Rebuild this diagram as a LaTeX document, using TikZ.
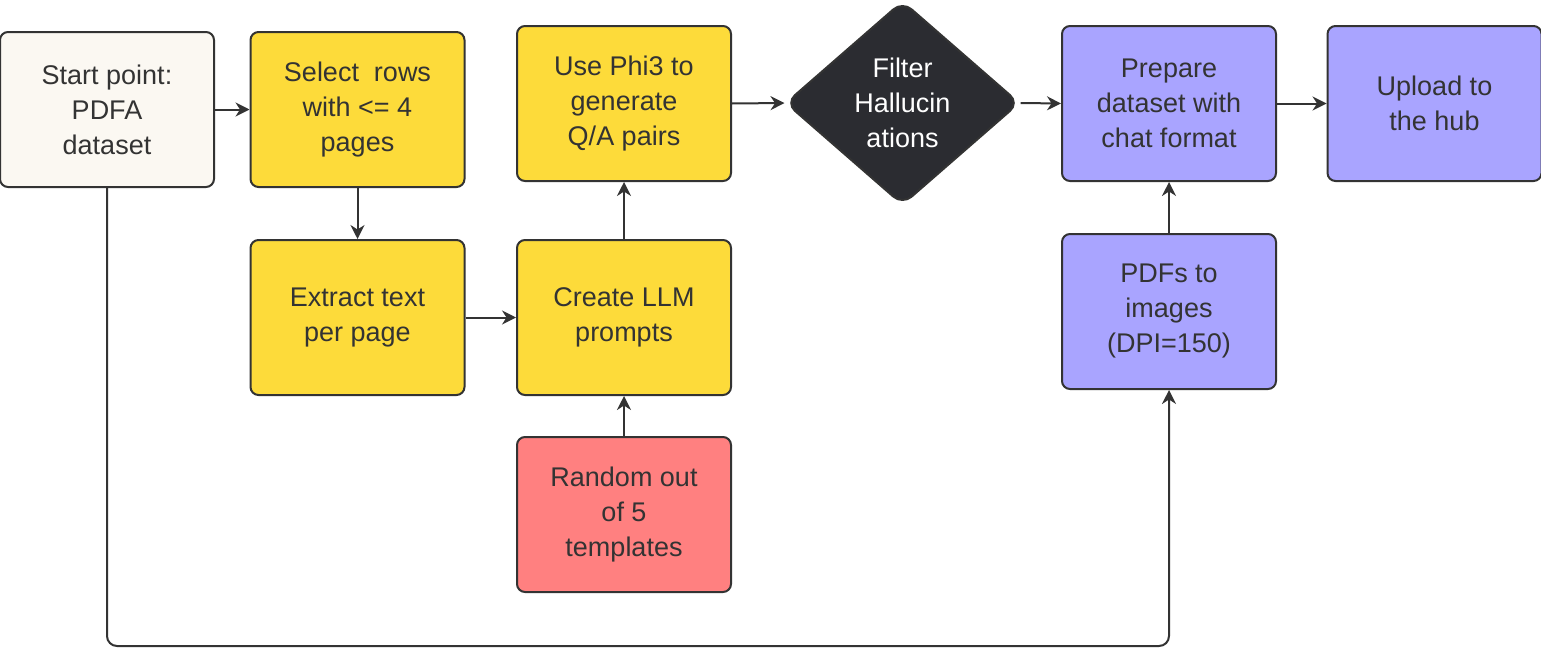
\documentclass[tikz,border=0pt]{standalone}
\usepackage{fontspec}
\setmainfont{Liberation Sans}
\usetikzlibrary{arrows.meta,shapes.geometric}
\definecolor{ln}{HTML}{333333}
\definecolor{cream}{HTML}{FBF8F2}
\definecolor{yel}{HTML}{FDDB3A}
\definecolor{redc}{HTML}{FF8080}
\definecolor{pur}{HTML}{A9A4FF}
\definecolor{dia}{HTML}{2B2C31}
\begin{document}
\begin{tikzpicture}[x=0.5pt,y=-0.5pt,
  box/.style={draw=ln,line width=1pt,rounded corners=4pt,minimum width=107pt,minimum height=77.5pt,align=center,inner sep=2pt,font=\fontsize{13.5}{17.5}\selectfont,text=ln},
  arr/.style={draw=ln,line width=1pt,-{Stealth[length=7pt,width=7pt]}}]
\useasboundingbox (0,0) rectangle (1541,648);
\node[box,fill=cream] (start) at (107,109.5) {Start point:\\PDFA\\dataset};
\node[box,fill=yel] (select) at (357.5,109.5) {Select\ \ rows\\with <= 4\\pages};
\node[box,fill=yel] (extract) at (357.5,317.5) {Extract text\\per page};
\node[box,fill=yel] (phi) at (624,103.5) {Use Phi3 to\\generate\\Q/A pairs};
\node[box,fill=yel] (create) at (624,317.5) {Create LLM\\prompts};
\node[box,fill=redc] (random) at (624,514.5) {Random out\\of 5\\templates};
\node[draw=ln,line width=1pt,fill=dia,diamond,rounded corners=6pt,minimum width=117pt,minimum height=102pt,inner sep=0pt,align=center,text=white,font=\fontsize{13.5}{17.5}\selectfont] (filter) at (902.5,103) {Filter\\Hallucin\\ations};
\node[box,fill=pur] (prep) at (1169,103.5) {Prepare\\dataset with\\chat format};
\node[box,fill=pur] (up) at (1434.5,103.5) {Upload to\\the hub};
\node[box,fill=pur] (pdfs) at (1169,311.5) {PDFs to\\images\\(DPI=150)};
\draw[arr] (start.east) -- (select.west);
\draw[arr] (select) -- (extract);
\draw[arr] (extract.east) -- (create.west);
\draw[arr] (create) -- (phi);
\draw[arr] (random) -- (create);
\draw[arr] (phi.east) -- (filter.west);
\draw[arr] (filter.east) -- (prep.west);
\draw[arr] (prep.east) -- (up.west);
\draw[arr] (pdfs) -- (prep);
\draw[arr,rounded corners=5pt] (start.south) -- (107,646) -- (1169,646) -- (pdfs.south);
\end{tikzpicture}
\end{document}
